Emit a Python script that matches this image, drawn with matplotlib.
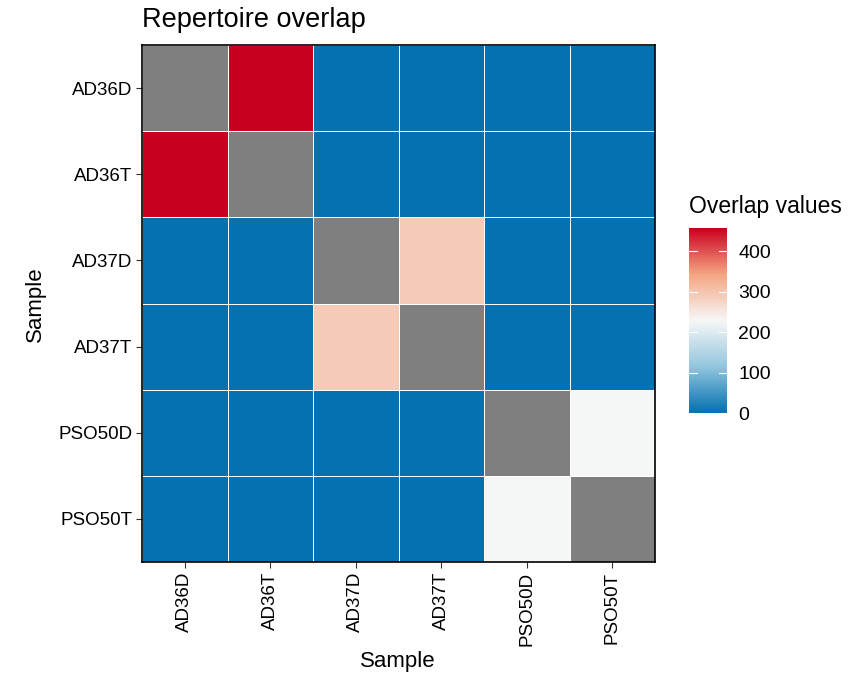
import matplotlib.pyplot as plt
import numpy as np
from matplotlib.colors import LinearSegmentedColormap

plt.rcParams['font.family'] = ['Liberation Sans', 'DejaVu Sans']

samples = ['AD36D', 'AD36T', 'AD37D', 'AD37T', 'PSO50D', 'PSO50T']

# pairwise overlap, diagonal left undefined
overlap = np.array([
    [np.nan, 457, 0, 0, 0, 0],
    [457, np.nan, 0, 0, 0, 0],
    [0, 0, np.nan, 290, 0, 0],
    [0, 0, 290, np.nan, 0, 0],
    [0, 0, 0, 0, np.nan, 225],
    [0, 0, 0, 0, 225, np.nan],
])
cbar_ticks = [0, 100, 200, 300, 400]

# RdBu 5-class, reversed (blue = low)
cmap = LinearSegmentedColormap.from_list(
    'rdbu5', ['#0571b0', '#92c5de', '#f7f7f7', '#f4a582', '#ca0020'])
cmap.set_bad('#7f7f7f')

W, H = 866, 675
fig = plt.figure(figsize=(W / 100, H / 100), dpi=100)

def px_axes(x0, y0, x1, y1):
    return fig.add_axes([x0 / W, 1 - y1 / H, (x1 - x0) / W, (y1 - y0) / H])

def px_text(x, y, s, **kw):
    return fig.text(x / W, 1 - y / H, s, **kw)

ax = px_axes(142, 45, 655, 562)
vals = np.ma.masked_invalid(overlap)
mesh = ax.pcolormesh(np.arange(len(samples) + 1), np.arange(len(samples) + 1), vals,
                     cmap=cmap, vmin=0, vmax=np.nanmax(overlap),
                     edgecolors='white', linewidth=0.5)
ax.set_xlim(0, len(samples))
ax.set_ylim(len(samples), 0)
ax.set_xticks(np.arange(len(samples)) + 0.5)
ax.set_yticks(np.arange(len(samples)) + 0.5)
ax.set_xticklabels(samples, rotation=90, fontsize=13.5)
ax.set_yticklabels(samples, fontsize=13.5)
ax.tick_params(length=4, width=0.8, color='#333333', pad=3)
for s in ax.spines.values():
    s.set_linewidth(1.2)
    s.set_color('black')

px_text(142, 20, 'Repertoire overlap', fontsize=19.5, ha='left', va='center')
px_text(398, 662, 'Sample', fontsize=16, ha='center', va='center')
px_text(35, 304, 'Sample', fontsize=16, ha='center', va='center', rotation=90)

cax = px_axes(689, 228, 727, 413)
cb = fig.colorbar(mesh, cax=cax, ticks=cbar_ticks)
cb.outline.set_visible(False)
cb.ax.tick_params(length=0, labelsize=14, pad=8)
for t in cbar_ticks:
    cax.plot([0, 0.2], [t, t], color='white', lw=0.8, transform=cax.get_yaxis_transform())
    cax.plot([0.8, 1], [t, t], color='white', lw=0.8, transform=cax.get_yaxis_transform())
px_text(689, 206, 'Overlap values', fontsize=16.5, va='center', ha='left')

fig.savefig('out.png', dpi=100)
